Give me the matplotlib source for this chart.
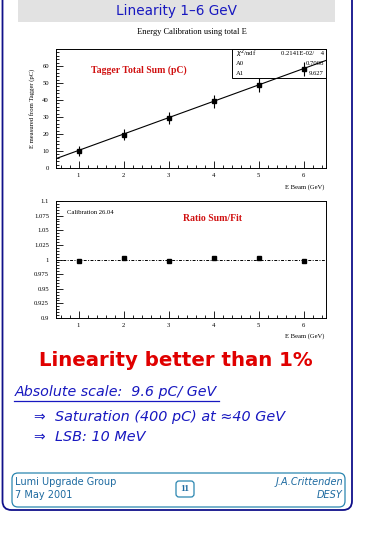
import matplotlib
matplotlib.use("Agg")
import matplotlib.pyplot as plt
from matplotlib.patches import FancyBboxPatch, Rectangle
from matplotlib.ticker import MultipleLocator
import numpy as np

# data
e_beam = [1, 2, 3, 4, 5, 6]
tagger_sum = [10.0, 19.6, 29.5, 39.2, 49.0, 58.3]
tagger_err = [3.0, 3.2, 3.5, 4.0, 4.2, 4.2]
ratio = [0.997, 1.002, 0.998, 1.002, 1.003, 0.998]
fit_a0 = 0.7008
fit_a1 = 9.627
stat_labels = ["$\\chi^2$/ndf", "A0", "A1"]
stat_values = ["0.2141E-02/    4", "0.7008", "9.627"]

W, H = 365, 535
fig = plt.figure(figsize=(W / 100, H / 100), dpi=100)
fig.patch.set_facecolor("white")

def fx(px):
    return px / W

def fy(py):
    return 1 - py / H

serif = "Liberation Serif"
navy = "#10108a"
blue = "#1818c0"

# slide frame
bg = fig.add_axes([0, 0, 1, 1])
bg.set_xlim(0, W)
bg.set_ylim(H, 0)
bg.axis("off")
frame = FancyBboxPatch((2.5, -20), 349.5, 530, boxstyle="round,pad=0,rounding_size=9",
                       fill=False, ec=navy, lw=1.3)
bg.add_patch(frame)
bg.add_patch(Rectangle((18, 0), 317, 22, fc="#e2e2e2", ec="none"))
bg.text(177, 11.5, "Linearity 1\u20136 GeV", color=blue, fontsize=9.8,
        ha="center", va="center", family="DejaVu Sans")

# top panel: calibration
ax1 = fig.add_axes([fx(56), fy(168), fx(270), 119 / H])
x = np.array(e_beam)
ax1.errorbar(x, tagger_sum, yerr=tagger_err, fmt="s", ms=3.2, color="black",
             ecolor="black", elinewidth=0.8, capsize=0)
xl = np.array([0.5, 6.5])
ax1.plot(xl, fit_a0 + fit_a1 * xl, color="black", lw=0.8)
ax1.set_xlim(0.5, 6.5)
ax1.set_ylim(0, 70)
ax1.yaxis.set_minor_locator(MultipleLocator(2))
ax1.set_yticks([0, 10, 20, 30, 40, 50, 60])
ax1.xaxis.set_major_locator(MultipleLocator(1))
ax1.xaxis.set_minor_locator(MultipleLocator(0.2))
ax1.set_ylabel("E measured from Tagger (pC)", family=serif, fontsize=4.8, labelpad=5)
fig.text(fx(324), fy(187), "E Beam (GeV)", family=serif, fontsize=4.8, ha="right", va="center")
fig.text(fx(192), fy(32), "Energy Calibration using total E", family=serif,
         fontsize=6, ha="center", va="center")
ax1.text(0.13, 0.82, "Tagger Total Sum (pC)", transform=ax1.transAxes,
         color="#d01010", family=serif, fontsize=7, fontweight="bold", va="center")

# stat box (transparent, like the ROOT one)
bx0, bx1 = fx(232), fx(326)
by0, by1 = fy(78), fy(49)
fig.patches.append(Rectangle((bx0, by0), bx1 - bx0, by1 - by0, transform=fig.transFigure,
                             fill=False, ec="black", lw=0.7, zorder=3))
rowh = (by1 - by0) / 3
for i in range(3):
    yc = by1 - rowh * (i + 0.5)
    fig.text(bx0 + fx(4), yc, stat_labels[i], family=serif, fontsize=4.8, va="center", zorder=4)
    fig.text(bx1 - fx(2), yc, stat_values[i], family=serif, fontsize=4.8, va="center",
             ha="right", zorder=4)

# bottom panel: ratio
ax2 = fig.add_axes([fx(56), fy(318), fx(270), 117 / H])
ax2.plot(x, ratio, "s", ms=3.2, color="black")
ax2.axhline(1.0, color="black", lw=0.7, ls=(0, (3, 1.5, 1, 1.5)))
ax2.set_xlim(0.5, 6.5)
ax2.set_ylim(0.9, 1.1)
ax2.set_yticks([0.9, 0.925, 0.95, 0.975, 1.0, 1.025, 1.05, 1.075, 1.1])
ax2.set_yticklabels(["0.9", "0.925", "0.95", "0.975", "1", "1.025", "1.05", "1.075", "1.1"])
ax2.yaxis.set_minor_locator(MultipleLocator(0.005))
ax2.xaxis.set_major_locator(MultipleLocator(1))
ax2.xaxis.set_minor_locator(MultipleLocator(0.2))
fig.text(fx(324), fy(336), "E Beam (GeV)", family=serif, fontsize=4.8, ha="right", va="center")
ax2.text(0.04, 0.9, "Calibration 26.04", transform=ax2.transAxes, family=serif,
         fontsize=4.8, va="center")
ax2.text(0.47, 0.85, "Ratio Sum/Fit", transform=ax2.transAxes, color="#d01010",
         family=serif, fontsize=7, fontweight="bold", va="center")

for ax in (ax1, ax2):
    ax.tick_params(which="both", direction="in", labelsize=4.8, width=0.6, pad=5)
    ax.tick_params(which="major", length=5)
    ax.tick_params(which="minor", length=2.5)
    ax.tick_params(axis="x", pad=3.5)
    for lab in ax.get_xticklabels() + ax.get_yticklabels():
        lab.set_family(serif)
    for s in ax.spines.values():
        s.set_linewidth(0.7)

# slide text
bg.text(176, 360, "Linearity better than 1%", color="#e00000", fontsize=14.2,
        fontweight="bold", ha="center", va="center", family="DejaVu Sans")
bg.text(15, 392, "Absolute scale:  9.6 pC/ GeV", color=blue, fontsize=10.3,
        style="italic", ha="left", va="center", family="DejaVu Sans")
bg.plot([14, 219], [401, 401], color=blue, lw=0.9)
bg.text(33, 417, "\u21d2", color=blue, fontsize=10, ha="left", va="center", family="DejaVu Sans")
bg.text(55, 417, "Saturation (400 pC) at \u224840 GeV", color=blue, fontsize=10.4,
        style="italic", ha="left", va="center", family="DejaVu Sans")
bg.text(33, 437, "\u21d2", color=blue, fontsize=10, ha="left", va="center", family="DejaVu Sans")
bg.text(55, 437, "LSB: 10 MeV", color=blue, fontsize=10.4,
        style="italic", ha="left", va="center", family="DejaVu Sans")

# footer
teal = "#2a86b0"
bg.add_patch(FancyBboxPatch((12, 473), 333, 34, boxstyle="round,pad=0,rounding_size=6",
                            fill=False, ec=teal, lw=0.9))
foot = "#1d6aa0"
bg.text(15, 482, "Lumi Upgrade Group", color=foot, fontsize=7, va="center", family="DejaVu Sans")
bg.text(15, 495, "7 May 2001", color=foot, fontsize=7, va="center", family="DejaVu Sans")
bg.text(343, 482, "J.A.Crittenden", color=foot, fontsize=7, va="center", ha="right",
        style="italic", family="DejaVu Sans")
bg.text(343, 495, "DESY", color=foot, fontsize=7, va="center", ha="right",
        style="italic", family="DejaVu Sans")
bg.add_patch(FancyBboxPatch((176, 481), 18, 16, boxstyle="round,pad=0,rounding_size=3",
                            fill=False, ec=teal, lw=0.9))
bg.text(185, 489, "11", color=foot, fontsize=6.8, ha="center", va="center",
        family=serif, fontweight="bold")

fig.savefig("out.png", dpi=100)
